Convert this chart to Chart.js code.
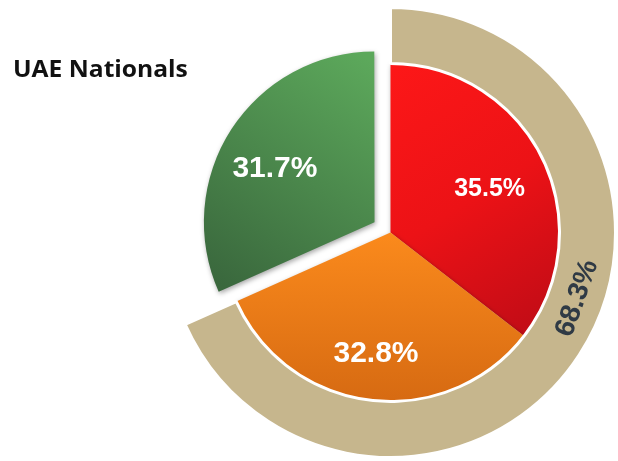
<!DOCTYPE html>
<html>
<head>
<meta charset="utf-8">
<title>UAE Nationals</title>
<script src="https://cdn.jsdelivr.net/npm/chart.js@4.4.1/dist/chart.umd.min.js"></script>
<style>
  html, body { margin: 0; padding: 0; background: #fff; overflow: hidden; width: 618px; height: 461px; }
  #title { position: absolute; left: 13px; top: 52px; z-index: 2;
           font: bold 23px "Open Sans", sans-serif; color: #111;
           transform: scaleX(1.07); transform-origin: left top; }
  #wrap { position: absolute; }
</style>
</head>
<body>
<div id="title">UAE Nationals</div>
<div id="wrap"><canvas id="pieChart"></canvas></div>
<script>
const categories = ['Red', 'Orange', 'Green'];
const pieValues = [35.5, 32.8, 31.7];
const ringLabels = ['Red + Orange', 'Rest'];
const ringValues = [68.3, 31.7];

// geometry of the whole figure
const CENTER_X = 390, CENTER_Y = 232.5, OUTER_RADIUS = 225;
const RING_BORDER = 3;
const EXPLODE = 76; // arc offset; Chart.js shifts the slice by a quarter of it

const SIZE = 2 * OUTER_RADIUS + RING_BORDER + EXPLODE;
const wrap = document.getElementById('wrap');
wrap.style.left = (CENTER_X - SIZE / 2) + 'px';
wrap.style.top = (CENTER_Y - SIZE / 2) + 'px';
wrap.style.width = SIZE + 'px';
wrap.style.height = SIZE + 'px';

// label placement: fraction along the arc, fraction of the radius
const pieLabelPos = [[0.52, 0.64], [0.50, 0.72], [0.46, 0.67]];
const pieLabelFont = [25, 30, 30];

function sliceFill(context) {
    const chart = context.chart;
    const area = chart.chartArea;
    const flat = ['#f01414', '#f07d18', '#4c8a4c'][context.dataIndex];
    if (!area) return flat;
    const cx = (area.left + area.right) / 2, cy = (area.top + area.bottom) / 2;
    const r = 170;
    const c = chart.ctx;
    let g;
    if (context.dataIndex === 0) {
        g = c.createLinearGradient(cx - 0.2 * r, cy - r, cx + 0.8 * r, cy + 0.6 * r);
        g.addColorStop(0, '#ff1818');
        g.addColorStop(0.55, '#ec1216');
        g.addColorStop(1, '#c20c16');
    } else if (context.dataIndex === 1) {
        g = c.createLinearGradient(cx, cy, cx, cy + r);
        g.addColorStop(0, '#fb8a1c');
        g.addColorStop(1, '#d66a12');
    } else {
        g = c.createLinearGradient(cx - 0.1 * r, cy - r, cx - r, cy + 0.3 * r);
        g.addColorStop(0, '#5ca85b');
        g.addColorStop(1, '#3a683d');
    }
    return g;
}

function arcPoint(arc, along, radial) {
    const p = arc.getProps(['x', 'y', 'startAngle', 'endAngle', 'innerRadius', 'outerRadius'], true);
    const a = p.startAngle + (p.endAngle - p.startAngle) * along;
    const mid = (p.startAngle + p.endAngle) / 2;
    const shift = (arc.options.offset || 0) / 4;
    const d = p.innerRadius + (p.outerRadius - p.innerRadius) * radial;
    return {
        x: p.x + Math.cos(mid) * shift + Math.cos(a) * d,
        y: p.y + Math.sin(mid) * shift + Math.sin(a) * d,
        angle: a
    };
}

const pieShadow = {
    id: 'pieShadow',
    beforeDatasetDraw(chart, args) {
        if (args.index !== 1) return;
        const ctx = chart.ctx;
        ctx.save();
        ctx.shadowColor = 'rgba(0,0,0,0.35)';
        ctx.shadowBlur = 5;
        ctx.shadowOffsetX = 1;
        ctx.shadowOffsetY = 2;
    },
    afterDatasetDraw(chart, args) {
        if (args.index === 1) chart.ctx.restore();
    }
};

const valueLabels = {
    id: 'valueLabels',
    afterDatasetsDraw(chart) {
        const ctx = chart.ctx;
        ctx.save();
        ctx.textAlign = 'center';
        ctx.textBaseline = 'middle';

        chart.getDatasetMeta(1).data.forEach((arc, i) => {
            const pt = arcPoint(arc, pieLabelPos[i][0], pieLabelPos[i][1]);
            ctx.font = 'bold ' + pieLabelFont[i] + 'px "Liberation Sans", Arial, sans-serif';
            ctx.fillStyle = '#ffffff';
            ctx.fillText(pieValues[i].toFixed(1) + '%', pt.x, pt.y);
        });

        const ring = chart.getDatasetMeta(0).data[0];
        const pt = arcPoint(ring, 0.445, 0.5);
        ctx.translate(pt.x, pt.y);
        ctx.rotate(pt.angle - Math.PI / 2);
        ctx.font = 'bold 28px "Liberation Sans", Arial, sans-serif';
        ctx.fillStyle = '#2f3a45';
        ctx.fillText(ringValues[0].toFixed(1) + '%', 0, 1);
        ctx.restore();
    }
};

new Chart(document.getElementById('pieChart'), {
    type: 'doughnut',
    data: {
        labels: categories,
        datasets: [
            {
                label: 'Combined',
                data: ringValues,
                backgroundColor: ['#c6b68d', 'rgba(0,0,0,0)'],
                borderColor: '#ffffff',
                borderWidth: [RING_BORDER, 0],
                hoverBorderWidth: [RING_BORDER, 0],
                offset: [0, EXPLODE],
                hoverOffset: [0, EXPLODE],
                weight: 56,
            },
            {
                label: 'Share',
                data: pieValues,
                backgroundColor: sliceFill,
                borderWidth: 0,
                hoverBorderWidth: 0,
                offset: [0, 0, EXPLODE],
                hoverOffset: [0, 0, EXPLODE],
                weight: 169,
            }
        ]
    },
    options: {
        responsive: true,
        maintainAspectRatio: false,
        animation: false,
        events: [],
        cutout: 0,
        layout: { padding: 0 },
        plugins: {
            legend: { display: false },
            title: { display: false },
            tooltip: { enabled: false },
        },
    },
    plugins: [pieShadow, valueLabels]
});
</script>
</body>
</html>
